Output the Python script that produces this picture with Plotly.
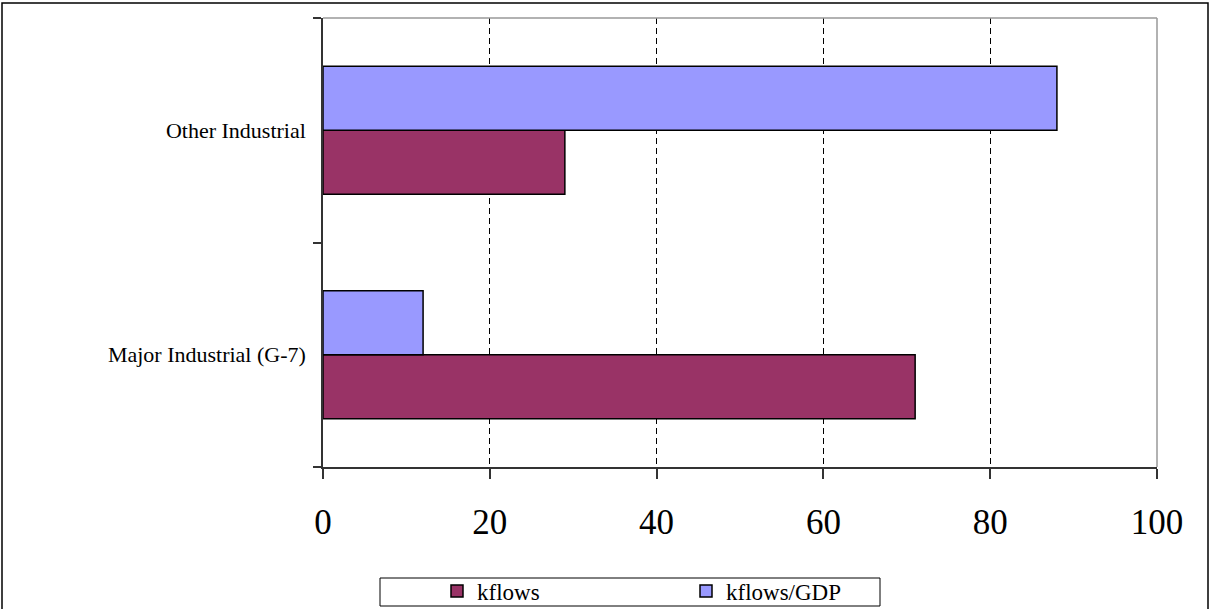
import plotly.graph_objects as go

# Data
categories = ["Major Industrial (G-7)", "Other Industrial"]
kflows = [71, 29]
kflows_gdp = [12, 88]
x_ticks = [0, 20, 40, 60, 80, 100]

FONT = "Liberation Serif, Times New Roman, serif"

fig = go.Figure()
fig.add_trace(go.Bar(
    y=categories, x=kflows, orientation="h", name="kflows",
    marker=dict(color="#993366", line=dict(color="#000000", width=1.5)),
))
fig.add_trace(go.Bar(
    y=categories, x=kflows_gdp, orientation="h", name="kflows/GDP",
    marker=dict(color="#9999FF", line=dict(color="#000000", width=1.5)),
))

W, H = 1211, 609
L, R, T, B = 323, 1157, 18, 467


def px_x(p):
    return (p - L) / (R - L)


def px_y(p):
    return (B - p) / (B - T)


fig.update_layout(
    width=W, height=H,
    margin=dict(l=L, r=W - R, t=T, b=H - B, pad=0, autoexpand=False),
    paper_bgcolor="white", plot_bgcolor="white",
    barmode="group", bargap=0.43, bargroupgap=0,
    font=dict(family=FONT, color="#000000"),
    showlegend=True,
    legend=dict(
        orientation="h", entrywidth=204, entrywidthmode="pixels",
        x=px_x(437), xanchor="left", y=px_y(591), yanchor="middle",
        bgcolor="rgba(0,0,0,0)", borderwidth=0,
        font=dict(family=FONT, size=23, color="#000000"),
        traceorder="normal",
    ),
    xaxis=dict(
        range=[0, 100], tickvals=x_ticks, ticks="outside", ticklen=10,
        tickcolor="#333333", tickwidth=1.5,
        showline=True, linecolor="#333333", linewidth=1.5,
        showgrid=True, gridcolor="#000000", gridwidth=1, griddash="6px,4px",
        zeroline=False,
        tickfont=dict(family=FONT, size=35, color="#000000"),
        ticklabelstandoff=13,
    ),
    yaxis=dict(
        type="category", categoryorder="array", categoryarray=categories,
        range=[-0.5, 1.5],
        tickson="boundaries", ticks="outside", ticklen=8,
        tickcolor="#333333", tickwidth=1.5,
        showline=True, linecolor="#333333", linewidth=1.5,
        showgrid=False, zeroline=False,
        tickfont=dict(family=FONT, size=22, color="#000000"),
        ticklabelstandoff=11,
    ),
    shapes=[
        # plot area top and right edges
        dict(type="line", xref="paper", yref="paper", x0=0, x1=1, y0=1, y1=1,
             line=dict(color="#999999", width=1.5)),
        dict(type="line", xref="paper", yref="paper", x0=1, x1=1, y0=0, y1=1,
             line=dict(color="#999999", width=1.5)),
        # legend frame
        dict(type="rect", xref="paper", yref="paper",
             x0=px_x(380), x1=px_x(880), y0=px_y(606), y1=px_y(578),
             line=dict(color="#000000", width=1), fillcolor="rgba(0,0,0,0)"),
        # chart frame
        dict(type="rect", xref="paper", yref="paper",
             x0=px_x(2), x1=px_x(1208), y0=px_y(615), y1=px_y(3),
             line=dict(color="#000000", width=1.5), fillcolor="rgba(0,0,0,0)"),
    ],
)

fig.write_html("out.html")
